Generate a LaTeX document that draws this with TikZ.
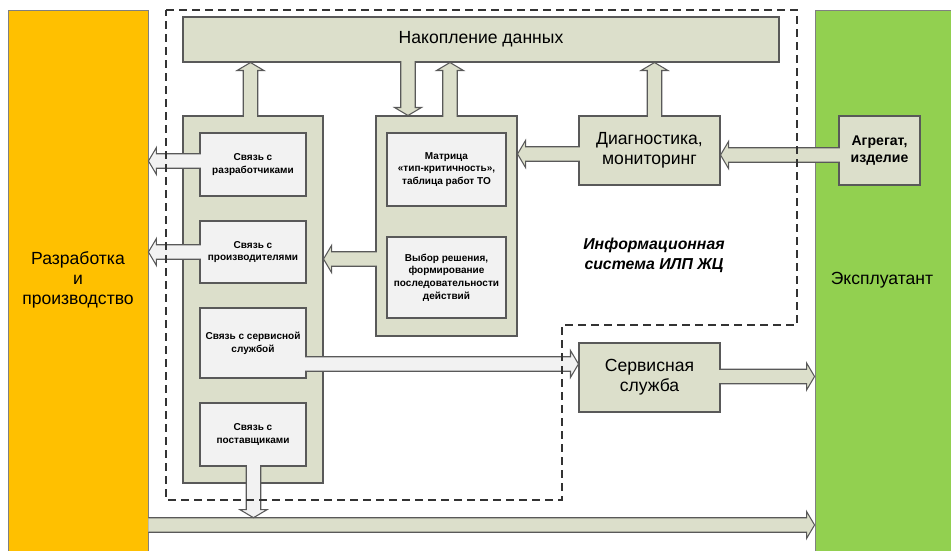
\documentclass[tikz,border=0pt]{standalone}
\usepackage{fontspec}
\setmainfont{Liberation Sans}
\usetikzlibrary{calc}
\definecolor{olivebox}{HTML}{DCDFCB}
\definecolor{lightbox}{HTML}{F2F2F2}
\definecolor{edgegray}{HTML}{595959}
\definecolor{orangebar}{HTML}{FFC000}
\definecolor{greenbar}{HTML}{92D050}
\newcommand{\pxu}{0.02cm}
\newcommand{\arrSW}{0.145cm}
\newcommand{\arrHW}{0.27cm}
\newcommand{\arrHL}{0.16cm}
% block arrow: fill colour, tail coordinate, tip coordinate (tail left open)
\newcommand{\blockarrow}[3]{%
  \coordinate (ba-s) at #2;
  \coordinate (ba-e) at #3;
  \coordinate (ba-h) at ($(ba-e)!\arrHL!(ba-s)$);
  \fill[#1] ($(ba-s)!\arrSW!90:(ba-e)$) -- ($(ba-h)!\arrSW!90:(ba-e)$) -- ($(ba-h)!\arrHW!90:(ba-e)$) -- (ba-e)
     -- ($(ba-h)!\arrHW!-90:(ba-e)$) -- ($(ba-h)!\arrSW!-90:(ba-e)$) -- ($(ba-s)!\arrSW!-90:(ba-e)$) -- cycle;
  \draw[arrline] ($(ba-s)!\arrSW!90:(ba-e)$) -- ($(ba-h)!\arrSW!90:(ba-e)$) -- ($(ba-h)!\arrHW!90:(ba-e)$) -- (ba-e)
     -- ($(ba-h)!\arrHW!-90:(ba-e)$) -- ($(ba-h)!\arrSW!-90:(ba-e)$) -- ($(ba-s)!\arrSW!-90:(ba-e)$);
}
\tikzset{
  arrline/.style={draw=edgegray, line width=0.6pt, line join=miter},
  bigfont/.style={font=\fontsize{10}{11.5}\selectfont},
  olivenode/.style={draw=edgegray, line width=0.6pt, fill=olivebox, inner sep=0pt, align=center, bigfont},
  lightnode/.style={draw=edgegray, line width=0.6pt, fill=lightbox, inner sep=0pt, align=center,
     font=\bfseries\fontsize{5.7}{7.2}\selectfont},
  barnode/.style={draw=gray, line width=0.5pt, inner sep=0pt},
  bartext/.style={inner sep=0pt, align=center, bigfont},
  borderline/.style={draw=black!80, line width=0.9pt, dash pattern=on 4.6pt off 2.8pt}
}
\begin{document}
\begin{tikzpicture}[x=0.02cm, y=-0.02cm]
\useasboundingbox (0,0) rectangle (951,551);
\fill[white] (0,0) rectangle (951,551);
% side bars
\node[barnode, fill=orangebar, minimum width=140*\pxu, minimum height=556*\pxu] (dev) at (78,288) {};
\node[bartext] (devtext) at (78,280) {Разработка\\и\\производство};
\node[barnode, fill=greenbar, minimum width=138*\pxu, minimum height=556*\pxu] (exp) at (884,288) {};
\node[bartext] (exptext) at (882,280) {Эксплуатант};
% boxes
\node[olivenode, minimum width=596*\pxu, minimum height=45*\pxu] (accum) at (481,39.5) {Накопление данных};
\node[olivenode, minimum width=140*\pxu, minimum height=367*\pxu] (leftC) at (253,299.5) {};
\node[lightnode, minimum width=106*\pxu, minimum height=63*\pxu] (b1) at (253,164.5) {Связь с\\разработчиками};
\node[lightnode, minimum width=106*\pxu, minimum height=62*\pxu] (b2) at (253,252) {Связь с\\производителями};
\node[lightnode, minimum width=106*\pxu, minimum height=70*\pxu] (b3) at (253,343) {Связь с сервисной\\службой};
\node[lightnode, minimum width=106*\pxu, minimum height=63*\pxu] (b4) at (253,434.5) {Связь с\\поставщиками};
\node[olivenode, minimum width=141*\pxu, minimum height=220*\pxu] (midC) at (446.5,226) {};
\node[lightnode, minimum width=119*\pxu, minimum height=73*\pxu] (m1) at (446.5,169.5) {Матрица\\«тип-критичность»,\\таблица работ ТО};
\node[lightnode, minimum width=119*\pxu, minimum height=81*\pxu] (m2) at (446.5,277.5) {Выбор решения,\\формирование\\последовательности\\действий};
\node[olivenode, minimum width=141*\pxu, minimum height=69*\pxu] (diag) at (649.5,150.5) {Диагностика,\\мониторинг};
\node[olivenode, minimum width=81*\pxu, minimum height=69*\pxu, font=\bfseries\fontsize{8}{9.6}\selectfont] (agr) at (879.5,150.5) {Агрегат,\\изделие};
\node[olivenode, minimum width=141*\pxu, minimum height=69*\pxu] (serv) at (649.5,377.5) {Сервисная\\служба};
\node[align=center, inner sep=0pt, font=\bfseries\itshape\fontsize{9}{11.3}\selectfont] (info) at (654,255) {Информационная\\система ИЛП ЖЦ};
% arrows
\coordinate (a1) at ($(b1.west)+(1.5,-3.5)$);
\blockarrow{lightbox}{(a1)}{(dev.east |- a1)}
\coordinate (a2) at ($(b2.west)+(1.5,0)$);
\blockarrow{lightbox}{(a2)}{(dev.east |- a2)}
\coordinate (a3) at ($(b3.east)+(-1.5,21)$);
\blockarrow{lightbox}{(a3)}{(serv.west |- a3)}
\coordinate (a5) at ($(devtext.center -| dev.east)+(0,245)$);
\blockarrow{olivebox}{(a5)}{(exp.west |- a5)}
\coordinate (a4) at ($(b4.south)+(0.5,-1.5)$);
\coordinate (a4t) at ($(a5)+(0,-7.3)$);
\blockarrow{lightbox}{(a4)}{(a4 |- a4t)}
\coordinate (u1) at ($(leftC.north)+(-2.5,1.5)$);
\blockarrow{olivebox}{(u1)}{(u1 |- accum.south)}
\coordinate (d1) at ($(accum.south)+(-73,-1.5)$);
\blockarrow{olivebox}{(d1)}{(d1 |- midC.north)}
\coordinate (u2) at ($(midC.north)+(3.5,1.5)$);
\blockarrow{olivebox}{(u2)}{(u2 |- accum.south)}
\coordinate (u3) at ($(diag.north)+(5,1.5)$);
\blockarrow{olivebox}{(u3)}{(u3 |- accum.south)}
\coordinate (h1) at ($(agr.west)+(1.5,4.5)$);
\blockarrow{olivebox}{(h1)}{(diag.east |- h1)}
\coordinate (h2) at ($(diag.west)+(1.5,3.5)$);
\blockarrow{olivebox}{(h2)}{(midC.east |- h2)}
\coordinate (h3) at ($(midC.west)+(1.5,33)$);
\blockarrow{olivebox}{(h3)}{(leftC.east |- h3)}
\coordinate (h4) at ($(serv.east)+(-1.5,-1)$);
\blockarrow{olivebox}{(h4)}{(exp.west |- h4)}
% dashed system border
\draw[borderline] (166,10) -- (797,10) -- (797,325) -- (562,325) -- (562,500) -- (166,500) -- cycle;
\end{tikzpicture}
\end{document}
